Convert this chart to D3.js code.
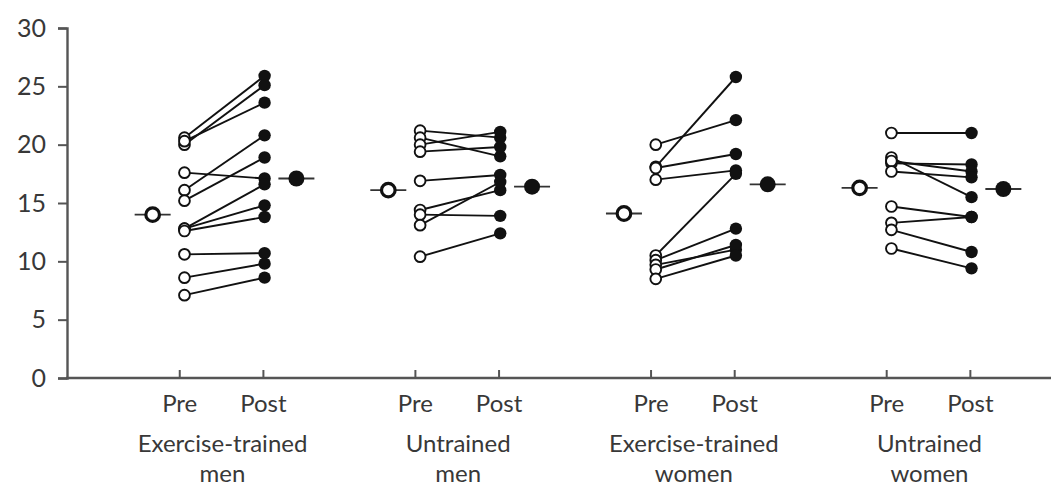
<!DOCTYPE html>
<html>
<head>
<meta charset="utf-8">
<script src="https://cdn.jsdelivr.net/npm/d3@7"></script>
<style>
  html, body { margin: 0; padding: 0; background: #fff; }
  svg { display: block; }
  text { font-family: Lato, "Open Sans", sans-serif; fill: #383838; }
</style>
</head>
<body>
<svg id="chart" width="1051" height="489"></svg>
<script>
// Group names (two lines each under the axis)
const groupNames = [
  ["Exercise-trained", "men"],
  ["Untrained", "men"],
  ["Exercise-trained", "women"],
  ["Untrained", "women"]
];
const phaseLabels = ["Pre", "Post"];
const yTicks = [0, 5, 10, 15, 20, 25, 30];

// Individual subjects: pre value and matching post value, per group
const preTrainedMen    = [20.6, 20.0, 20.3, 17.6, 16.1, 15.2, 12.8, 12.8, 12.6, 10.6, 8.6, 7.1];
const postTrainedMen   = [25.9, 25.1, 23.6, 17.1, 20.8, 18.9, 16.6, 14.8, 13.8, 10.7, 9.8, 8.6];
const preUntrainedMen  = [21.2, 20.6, 20.0, 19.4, 16.9, 14.4, 14.0, 13.1, 10.4];
const postUntrainedMen = [20.6, 19.0, 21.1, 19.8, 17.4, 16.1, 13.9, 16.8, 12.4];
const preTrainedWomen  = [20.0, 18.1, 18.0, 17.0, 10.5, 10.1, 9.7, 9.3, 8.5];
const postTrainedWomen = [22.1, 25.8, 19.2, 17.8, 17.5, 12.8, 11.0, 11.4, 10.5];
const preUntrainedWomen  = [21.0, 18.9, 18.4, 18.6, 17.7, 14.7, 13.3, 12.7, 11.1];
const postUntrainedWomen = [21.0, 15.5, 18.3, 17.7, 17.2, 13.8, 13.8, 10.8, 9.4];

// Group means
const meanPre  = [14.0, 16.1, 14.1, 16.3];
const meanPost = [17.1, 16.4, 16.6, 16.2];

const preAll  = [preTrainedMen, preUntrainedMen, preTrainedWomen, preUntrainedWomen];
const postAll = [postTrainedMen, postUntrainedMen, postTrainedWomen, postUntrainedWomen];

const svg = d3.select("#chart");
const ink = "#111";
const axisColor = "#555";
const fontStack = "Lato, 'Open Sans', sans-serif";

// x runs over group slots: group i spans [i, i+1], centre at i + 0.5
const x = d3.scaleLinear().domain([0, 4]).range([106.7, 1049.3]);
const y = d3.scaleLinear().domain([0, 30]).range([378, 28]);

const PRE = -0.17, POST = 0.17, MEAN = 0.305;
const TICK_PRE = -0.19, TICK_POST = 0.165;

// y axis
const yAxis = svg.append("g")
  .attr("transform", `translate(67,0)`)
  .call(d3.axisLeft(y).tickValues(yTicks).tickSize(9).tickPadding(12));
yAxis.select(".domain").attr("stroke", axisColor).attr("stroke-width", 2.4);
yAxis.selectAll(".tick line").attr("stroke", axisColor).attr("stroke-width", 2);
yAxis.selectAll(".tick text")
  .attr("font-size", 25).attr("fill", "#383838")
  .style("font-family", fontStack);

// x axis baseline with upward ticks at Pre / Post
const xTickVals = [];
groupNames.forEach((g, i) => { xTickVals.push(i + 0.5 + TICK_PRE, i + 0.5 + TICK_POST); });
svg.append("line")
  .attr("x1", 66).attr("x2", 1051)
  .attr("y1", y(0)).attr("y2", y(0))
  .attr("stroke", axisColor).attr("stroke-width", 2.4);
svg.append("g").selectAll("line").data(xTickVals).join("line")
  .attr("x1", d => x(d)).attr("x2", d => x(d))
  .attr("y1", y(0)).attr("y2", y(0) - 8)
  .attr("stroke", axisColor).attr("stroke-width", 2);

// Pre / Post labels
svg.append("g").selectAll("text").data(xTickVals).join("text")
  .attr("x", d => x(d))
  .attr("y", 412)
  .attr("text-anchor", "middle")
  .attr("font-size", 24)
  .text((d, i) => phaseLabels[i % 2]);

// Group labels
const gl = svg.append("g").selectAll("text").data(groupNames).join("text")
  .attr("text-anchor", "middle")
  .attr("font-size", 24);
gl.append("tspan")
  .attr("x", (d, i) => x(i + 0.5) - 2)
  .attr("y", 452)
  .text(d => d[0]);
gl.append("tspan")
  .attr("x", (d, i) => x(i + 0.5) - 2)
  .attr("y", 482)
  .text(d => d[1]);

// Subject lines and points
groupNames.forEach((g, gi) => {
  const pre = preAll[gi], post = postAll[gi];
  const pairs = pre.map((v, k) => ({ pre: v, post: post[k] }));
  const grp = svg.append("g");
  grp.selectAll("line.pair").data(pairs).join("line")
    .attr("class", "pair")
    .attr("x1", x(gi + 0.5 + PRE)).attr("y1", d => y(d.pre))
    .attr("x2", x(gi + 0.5 + POST)).attr("y2", d => y(d.post))
    .attr("stroke", ink).attr("stroke-width", 1.9);
  grp.selectAll("circle.pre").data(pairs).join("circle")
    .attr("class", "pre")
    .attr("cx", x(gi + 0.5 + PRE)).attr("cy", d => y(d.pre))
    .attr("r", 5.4)
    .attr("fill", "#fff").attr("stroke", ink).attr("stroke-width", 1.9);
  grp.selectAll("circle.post").data(pairs).join("circle")
    .attr("class", "post")
    .attr("cx", x(gi + 0.5 + POST)).attr("cy", d => y(d.post))
    .attr("r", 6.2)
    .attr("fill", ink);

  // mean markers with short horizontal bars
  [[meanPre[gi], -MEAN, false], [meanPost[gi], MEAN, true]].forEach(([m, off, filled]) => {
    const cx = x(gi + 0.5 + off);
    grp.append("line")
      .attr("x1", cx - 18).attr("x2", cx + 18)
      .attr("y1", y(m)).attr("y2", y(m))
      .attr("stroke", "#333").attr("stroke-width", 1.8);
    grp.append("circle")
      .attr("cx", cx).attr("cy", y(m))
      .attr("r", filled ? 8 : 6.8)
      .attr("fill", filled ? ink : "#fff")
      .attr("stroke", ink).attr("stroke-width", filled ? 0 : 3.2);
  });
});
</script>
</body>
</html>
